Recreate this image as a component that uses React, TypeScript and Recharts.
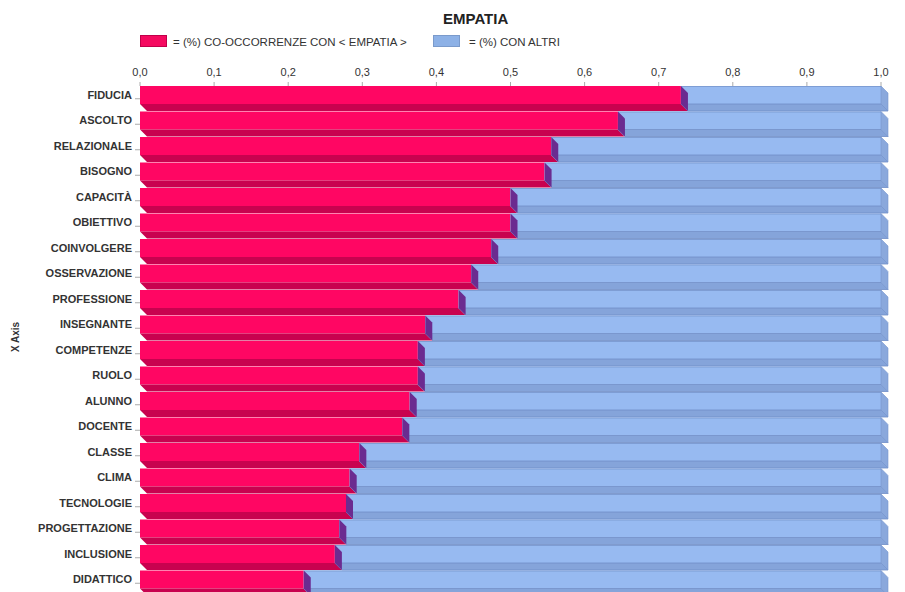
import React from "react";
import { BarChart, Bar, XAxis, YAxis } from "recharts";

const categories = [
  "FIDUCIA", "ASCOLTO", "RELAZIONALE", "BISOGNO", "CAPACITÀ", "OBIETTIVO", "COINVOLGERE",
  "OSSERVAZIONE", "PROFESSIONE", "INSEGNANTE", "COMPETENZE", "RUOLO", "ALUNNO", "DOCENTE",
  "CLASSE", "CLIMA", "TECNOLOGIE", "PROGETTAZIONE", "INCLUSIONE", "DIDATTICO",
];
const coOccurrence = [
  0.73, 0.645, 0.555, 0.546, 0.5, 0.5, 0.474, 0.447, 0.43, 0.385,
  0.375, 0.375, 0.364, 0.354, 0.296, 0.283, 0.278, 0.269, 0.263, 0.221,
];
const withOthers = [
  0.27, 0.355, 0.445, 0.454, 0.5, 0.5, 0.526, 0.553, 0.57, 0.615,
  0.625, 0.625, 0.636, 0.646, 0.704, 0.717, 0.722, 0.731, 0.737, 0.779,
];
const xTicks = [0, 0.1, 0.2, 0.3, 0.4, 0.5, 0.6, 0.7, 0.8, 0.9, 1];

const data = categories.map((name, i) => ({ name, co: coOccurrence[i], altri: withOthers[i] }));

const FONT = "'Liberation Sans', Arial, sans-serif";
const DEPTH = 7;

// front face + bottom face going down-right
const PinkBar = (props: any) => {
  const { x, y, width, height } = props;
  const f = height - DEPTH;
  return (
    <g>
      <rect x={x} y={y} width={width} height={f} fill="#FF0663" />
      <polygon
        points={`${x},${y + f} ${x + width},${y + f} ${x + width + DEPTH},${y + height} ${x + DEPTH},${y + height}`}
        fill="#C8024F"
      />
    </g>
  );
};

const BlueBar = (props: any) => {
  const { x, y, width, height } = props;
  const f = height - DEPTH;
  const r = x + width;
  return (
    <g>
      <rect x={x} y={y} width={width} height={f} fill="#97BAF1" />
      <line x1={x} x2={r} y1={y + 0.5} y2={y + 0.5} stroke="#7E9DD4" strokeWidth={1} />
      <polygon
        points={`${x},${y + f} ${r},${y + f} ${r + DEPTH},${y + height} ${x + DEPTH},${y + height}`}
        fill="#85A4DA"
        stroke="#6E8DC6"
        strokeWidth={0.8}
      />
      <polygon
        points={`${r},${y} ${r + DEPTH},${y + DEPTH} ${r + DEPTH},${y + height} ${r},${y + f}`}
        fill="#8AA8DC"
        stroke="#7696CE"
        strokeWidth={0.6}
      />
      {/* side face of the pink part, seen at the junction */}
      <polygon
        points={`${x},${y} ${x + DEPTH},${y + DEPTH} ${x + DEPTH},${y + height} ${x},${y + f}`}
        fill="#6B2B90"
      />
    </g>
  );
};

const CategoryTick = (props: any) => {
  const { x, y, payload } = props;
  return (
    <text x={x} y={y - 4} dy="0.35em" textAnchor="end" fontFamily={FONT} fontSize={11} fontWeight="bold" fill="#333">
      {payload.value}
    </text>
  );
};

export default function App() {
  return (
    <div style={{ position: "absolute", left: 0, top: 0, width: 905, height: 592, overflow: "hidden", background: "#fff", fontFamily: FONT }}>
      <div style={{ position: "absolute", left: 443, top: 10, fontSize: 15, fontWeight: "bold", color: "#222" }}>EMPATIA</div>
      <div style={{ position: "absolute", left: 140, top: 35, width: 27, height: 12, background: "#F50A60", border: "1px solid #c0004a", boxSizing: "border-box" }} />
      <div style={{ position: "absolute", left: 173, top: 35, fontSize: 11.5, color: "#333", lineHeight: "14px", whiteSpace: "nowrap" }}>
        = (%) CO-OCCORRENZE CON &lt; EMPATIA &gt;
      </div>
      <div style={{ position: "absolute", left: 433, top: 35, width: 27, height: 12, background: "#8DB1E6", border: "1px solid #7a9acb", boxSizing: "border-box" }} />
      <div style={{ position: "absolute", left: 469, top: 35, fontSize: 11.5, color: "#333", lineHeight: "14px", whiteSpace: "nowrap" }}>
        = (%) CON ALTRI
      </div>
      <BarChart
        width={905}
        height={600}
        data={data}
        layout="vertical"
        margin={{ top: 56, right: 24, bottom: 4, left: 0 }}
        barSize={25}
      >
        <XAxis
          type="number"
          orientation="top"
          domain={[0, 1]}
          ticks={xTicks}
          height={30}
          axisLine={false}
          tickLine={{ stroke: "#aaa" }}
          tickSize={4}
          tickMargin={6}
          tickFormatter={(v: number) => v.toFixed(1).replace(".", ",")}
          tick={{ fontFamily: FONT, fontSize: 11, fill: "#333" }}
        />
        <YAxis
          type="category"
          dataKey="name"
          width={140}
          axisLine={false}
          tickLine={{ stroke: "#aaa" }}
          tickSize={5}
          tickMargin={3}
          tick={<CategoryTick />}
          interval={0}
          label={{ value: "X Axis", angle: -90, position: "insideLeft", offset: 15, textAnchor: "middle", dy: -4, style: { fontFamily: FONT, fontSize: 10, fontWeight: "bold", fill: "#333" } }}
        />
        <Bar dataKey="co" stackId="a" shape={<PinkBar />} isAnimationActive={false} />
        <Bar dataKey="altri" stackId="a" shape={<BlueBar />} isAnimationActive={false} />
      </BarChart>
    </div>
  );
}
